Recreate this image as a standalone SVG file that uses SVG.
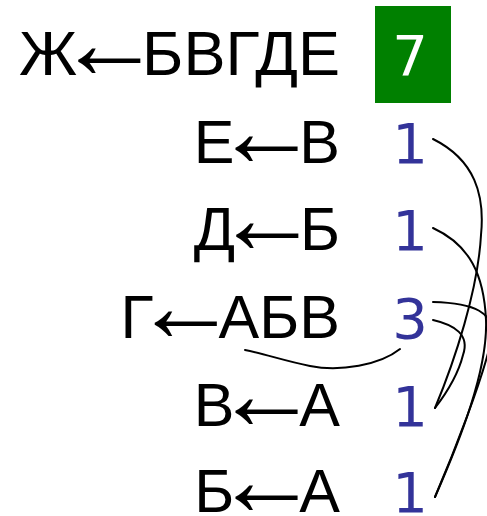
<svg xmlns="http://www.w3.org/2000/svg" width="487" height="516" viewBox="0 0 487 516">
  <style>
    .rule { font-family: "Liberation Sans", Arial, sans-serif; font-size: 61px; fill: #000; text-anchor: end; }
    .head { font-size: 63px; }
    .arr { font-size: 105px; baseline-shift: -3px; letter-spacing: -20px; }
    .count { font-family: "DejaVu Sans", sans-serif; font-size: 56px; fill: #333399; text-anchor: middle; }
    .total { font-family: "DejaVu Sans", sans-serif; font-size: 56px; fill: #fff; text-anchor: middle; }
    .link { fill: none; stroke: #000; stroke-width: 2; stroke-linecap: round; }
  </style>
  <rect width="487" height="516" fill="#fff"/>

  <g id="node-zh">
    <text class="rule head" x="340" y="75">Ж<tspan class="arr" dx="-20">←</tspan>БВГДЕ</text>
    <rect x="375" y="6" width="76" height="97" fill="#008000"/>
    <text class="total" x="410" y="75">7</text>
  </g>
  <g id="node-e">
    <text class="rule" x="340" y="163">Е<tspan class="arr" dx="-20">←</tspan>В</text>
    <text class="count" x="410" y="163">1</text>
  </g>
  <g id="node-d">
    <text class="rule" x="340" y="250">Д<tspan class="arr" dx="-20">←</tspan>Б</text>
    <text class="count" x="410" y="250">1</text>
  </g>
  <g id="node-g">
    <text class="rule" x="340" y="338">Г<tspan class="arr" dx="-20">←</tspan>АБВ</text>
    <text class="count" x="410" y="338">3</text>
  </g>
  <g id="node-v">
    <text class="rule" x="340" y="426">В<tspan class="arr" dx="-20">←</tspan>А</text>
    <text class="count" x="410" y="426">1</text>
  </g>
  <g id="node-b">
    <text class="rule" x="340" y="512">Б<tspan class="arr" dx="-20">←</tspan>А</text>
    <text class="count" x="410" y="512">1</text>
  </g>

  <g id="connectors">
    <path class="link" d="M433,139 C475,160 485,195 481,235 C478,290 455,360 435,408"/>
    <path class="link" d="M433,228 C470,245 484,275 486,320 C488,370 460,440 435,497"/>
    <path class="link" d="M433,302 C470,303 500,310 490,345 C482,380 455,450 435,497"/>
    <path class="link" d="M433,320 C455,325 470,335 463,355 C458,375 445,395 435,408"/>
    <path class="link" d="M400,349 C380,365 340,372 310,366 C285,361 265,354 245,350"/>
  </g>
</svg>
